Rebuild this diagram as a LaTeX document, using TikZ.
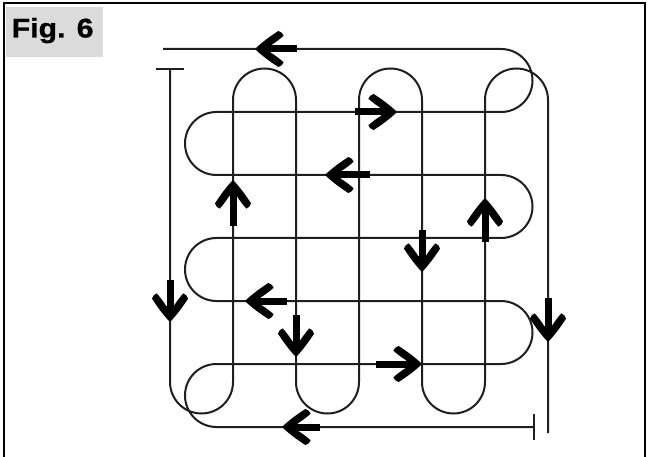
\documentclass[tikz,border=0pt]{standalone}
\usepackage{fontspec}
\setmainfont{Liberation Sans}
\newfontfamily\figfont[FakeBold=0.8]{Liberation Sans Bold}
\begin{document}
\begin{tikzpicture}[x=1pt,y=-1pt,
  wire/.style={line width=2pt, draw=black!88, line join=round},
  shaft/.style={line width=7pt, draw=black},
  tbar/.style={line width=2pt, draw=black!88},
  ahead/.pic={\fill[black,scale=1.06] (0,0) .. controls (-6,6) and (-15,12.5) .. (-22,17)
      .. controls (-24.5,16.5) and (-26.5,14.5) .. (-27,12.5)
      .. controls (-23,9) and (-19,6) .. (-15,3.5)
      -- (-15,-3.5) .. controls (-19,-6) and (-23,-9) .. (-27,-12.5)
      .. controls (-26.5,-14.5) and (-24.5,-16.5) .. (-22,-17)
      .. controls (-15,-12.5) and (-6,-6) .. cycle;}
  ]
\useasboundingbox (0,0) rectangle (648,457);
\begin{scope}
  \clip (0,0) rectangle (648,457);
  \draw[line width=2pt] (3.5,3.5) rectangle (644.5,470);
\end{scope}
\fill[black!14] (5.5,7) rectangle (103,57);
\node[anchor=base west, font=\figfont\fontsize{27}{27}\selectfont, inner sep=0, xscale=1.12] (fig) at (11.5,37.5) {Fig. 6};

% vertical snake
\coordinate (vstart) at (170,69);
\coordinate (vend) at (548,433);
\draw[tbar] (156,69) -- (184,69);
\draw[wire] (vstart) -- (170,382) arc[start angle=180,end angle=0,radius=31.5]
  -- (233,100) arc[start angle=180,end angle=360,radius=31.5]
  -- (296,382) arc[start angle=180,end angle=0,radius=31.5]
  -- (359,100) arc[start angle=180,end angle=360,radius=31.5]
  -- (422,382) arc[start angle=180,end angle=0,radius=31.5]
  -- (485,100) arc[start angle=180,end angle=360,radius=31.5]
  -- (vend);

% horizontal snake
\coordinate (hstart) at (534,427);
\coordinate (hend) at (163,49);
\draw[tbar] (534,414) -- (534,440);
\draw[wire] (hstart) -- (216.5,427) arc[start angle=90,end angle=270,radius=31.5]
  -- (501,364) arc[start angle=90,end angle=-90,radius=31.5]
  -- (216.5,301) arc[start angle=90,end angle=270,radius=31.5]
  -- (501,238) arc[start angle=90,end angle=-90,radius=31.5]
  -- (216.5,175) arc[start angle=90,end angle=270,radius=31.5]
  -- (501,112) arc[start angle=90,end angle=-90,radius=31.5]
  -- (hend);

% arrows: shaft + head (rotate 0 = right, 180 = left, 90 = up, -90 = down)
\draw[shaft] (297,49) -- (268,49);   \pic[rotate=180] at (255,49) {ahead};
\draw[shaft] (355,112) -- (383,112); \pic at (397,112) {ahead};
\draw[shaft] (370,175) -- (338,175); \pic[rotate=180] at (325,175) {ahead};
\draw[shaft] (233,226) -- (233,193); \pic[rotate=90] at (233,180) {ahead};
\draw[shaft] (485,242) -- (485,211); \pic[rotate=90] at (485,198) {ahead};
\draw[shaft] (422,230) -- (422,259); \pic[rotate=-90] at (422,272) {ahead};
\draw[shaft] (170,280) -- (170,309); \pic[rotate=-90] at (170,322) {ahead};
\draw[shaft] (287,301) -- (258,301); \pic[rotate=180] at (245,301) {ahead};
\draw[shaft] (296,315) -- (296,344); \pic[rotate=-90] at (296,357) {ahead};
\draw[shaft] (376,364) -- (409,364); \pic at (422,364) {ahead};
\draw[shaft] (548,298) -- (548,329); \pic[rotate=-90] at (548,342) {ahead};
\draw[shaft] (320,427) -- (295,427); \pic[rotate=180] at (282,427) {ahead};
\end{tikzpicture}
\end{document}
